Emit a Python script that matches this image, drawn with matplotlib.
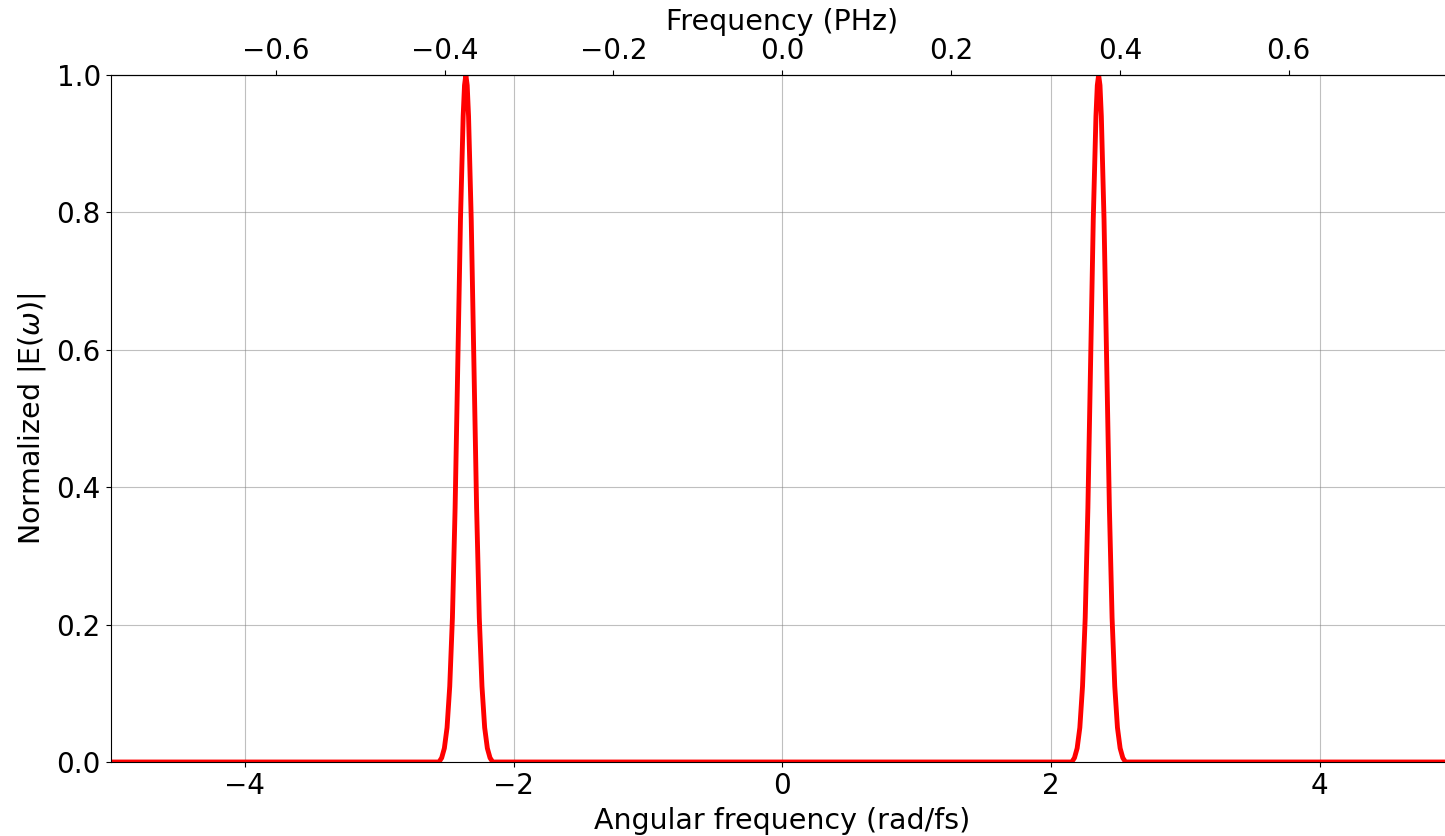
import numpy as np
import matplotlib
matplotlib.use("Agg")
import matplotlib.pyplot as plt

# Angular frequency samples (rad/fs)
omega = [-5.0,
         -2.555, -2.535, -2.515, -2.495, -2.475, -2.455, -2.435, -2.415, -2.395, -2.375,
         -2.365, -2.355, -2.345,
         -2.335, -2.315, -2.295, -2.275, -2.255, -2.235, -2.215, -2.195, -2.175, -2.155,
         2.155, 2.175, 2.195, 2.215, 2.235, 2.255, 2.275, 2.295, 2.315, 2.335,
         2.345, 2.355, 2.365,
         2.375, 2.395, 2.415, 2.435, 2.455, 2.475, 2.495, 2.515, 2.535, 2.555,
         5.0]
# Normalized spectral amplitude
amplitude = [0.0,
             0.0, 0.006, 0.02, 0.05, 0.11, 0.21, 0.37, 0.58, 0.79, 0.94,
             0.985, 1.0, 0.985,
             0.94, 0.79, 0.58, 0.37, 0.21, 0.11, 0.05, 0.02, 0.006, 0.0,
             0.0, 0.006, 0.02, 0.05, 0.11, 0.21, 0.37, 0.58, 0.79, 0.94,
             0.985, 1.0, 0.985,
             0.94, 0.79, 0.58, 0.37, 0.21, 0.11, 0.05, 0.02, 0.006, 0.0,
             0.0]

x_ticks = [-4, -2, 0, 2, 4]
y_ticks = [0.0, 0.2, 0.4, 0.6, 0.8, 1.0]
top_ticks = [-0.6, -0.4, -0.2, 0.0, 0.2, 0.4, 0.6]

fig = plt.figure(figsize=(14.45, 8.36), dpi=100)
ax = fig.add_axes([110.5 / 1445, 74 / 836, (1454 - 110.5) / 1445, (762 - 75) / 836])

ax.plot(omega, amplitude, color="red", lw=3.5)
ax.set_xlim(-5, 5)
ax.set_ylim(0, 1)
ax.set_xticks(x_ticks)
ax.set_yticks(y_ticks)
ax.grid(True, color="gray", alpha=0.5, lw=0.8)
ax.tick_params(labelsize=20)
ax.set_xlabel("Angular frequency (rad/fs)", fontsize=20.5, labelpad=5)
ax.set_ylabel(r"Normalized |E($\omega$)|", fontsize=20.5, labelpad=6)

sec = ax.secondary_xaxis("top", functions=(lambda w: w / (2 * np.pi), lambda f: f * 2 * np.pi))
sec.set_xticks(top_ticks)
sec.tick_params(labelsize=20)
sec.set_xlabel("Frequency (PHz)", fontsize=20.5, labelpad=5)

fig.savefig("out.png", dpi=100)
